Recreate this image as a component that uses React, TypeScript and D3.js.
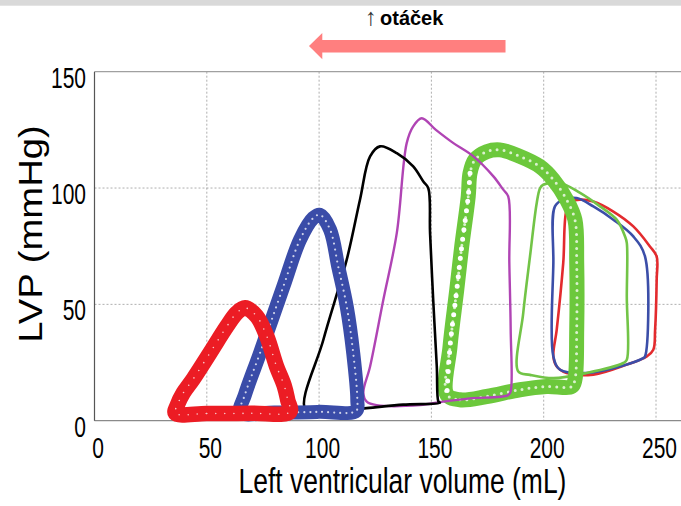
import React from 'react';
import * as d3 from 'd3';

// ---------- data ----------
const xTicks = [0, 50, 100, 150, 200, 250];
const yTicks = [0, 50, 100, 150];
const xLabel = 'Left ventricular volume (mL)';
const yLabel = 'LVP (mmHg)';
const titleArrow = '↑';
const titleText = 'otáček';

// annotation arrow (data units): from volume -> to volume at pressure level
const annFromV = 183;
const annToV = 95.5;
const annP = 161;

// thick loops (marker "o" series)
const redThickV = [36, 50, 70, 87, 86, 84.5, 81, 76.7, 72.2, 67, 63.3, 58.9, 51.4, 44, 39.5, 37];
const redThickP = [3.2, 3.1, 3.2, 3.8, 9, 15, 23.5, 36.3, 44.9, 48.5, 46.3, 40.5, 29.1, 18, 11.9, 7];

const blueThickV = [65, 80, 100, 116.5, 117, 115.2, 112.3, 108.5, 104.9, 100.4, 97.4, 91.5, 84.1, 73.7, 67];
const blueThickP = [3.6, 3.5, 3.8, 4.2, 9, 29, 49.1, 66.3, 82.1, 88.5, 87.1, 77.8, 57.7, 29.1, 11.2];

const greenThickV = [156.9, 162.7, 174.6, 189.4, 201.3, 212.5, 213.9, 214.7, 214.7, 213.9, 210.2, 204.3, 198.4, 189.4, 180.5, 174.6, 169.4, 167.2, 166.4, 163.5, 161.3, 158.3];
const greenThickP = [11.2, 9.0, 10.4, 13.3, 14.7, 14.7, 17.6, 39.1, 67.8, 86.4, 95.0, 103.6, 109.2, 113.6, 116.4, 115.6, 112.2, 106.4, 96.4, 74.9, 56.3, 31.9];
const greenSparseFrom = 17;

// thin loops
const blackV = [94, 110, 121.2, 137.4, 153.8, 153.1, 152.4, 150.8, 149.4, 148.6, 146.4, 141.9, 134.6, 127.1, 122.7, 118.2, 112.3, 101.9];
const blackP = [4.5, 4.6, 5.4, 6.9, 7.7, 8.3, 23.3, 52, 80.7, 100, 102.8, 109.3, 115, 117.9, 113.6, 95, 69.2, 34.8];

const magentaV = [121.2, 125.6, 144.9, 155.3, 167.2, 184.2, 185.3, 185.3, 184.7, 184.2, 182, 177.6, 168.7, 159.8, 152, 145.7, 141.9, 139, 134.6, 128.6, 122.7, 119.7];
const magentaP = [8.2, 6.7, 6.7, 8.2, 9.6, 11, 12.6, 39.1, 67.8, 96.4, 99.3, 105, 113.6, 119.3, 125, 130, 126.5, 119.3, 80.7, 52, 23.3, 11.9];

const greenThinV = [188.7, 193.9, 204.3, 219.1, 235.4, 237.0, 237.0, 237.0, 236.2, 232.5, 225.1, 216.2, 207.3, 199.8, 198.4, 196.9, 193.9, 190.9];
const greenThinP = [21.1, 19.7, 18.3, 20.5, 24.8, 26.2, 53.4, 76.4, 79.2, 86.4, 92.1, 97.9, 102.2, 101.4, 100.0, 93.6, 70.6, 46.3];

const blueThinV = [207.3, 219.1, 234.0, 244.3, 245.1, 245.1, 239.9, 231.0, 222.1, 214.7, 208.7, 205.0, 204.3, 204.3];
const blueThinP = [21.9, 20.5, 23.3, 26.9, 27.6, 70.6, 79.2, 86.4, 92.1, 95.7, 95.0, 92.1, 67.8, 27.6];

const redThinV = [210.2, 222.1, 237.0, 245.9, 248.8, 249.6, 250.3, 250.3, 247.3, 239.9, 231.0, 222.1, 216.2, 212.5, 210.2, 208.7, 205.8, 204.3, 205.8];
const redThinP = [20.5, 19.8, 24.1, 27.6, 30.5, 39.1, 60.6, 70.6, 74.9, 83.5, 89.9, 94.2, 95.0, 94.2, 90.7, 67.8, 39.1, 27.6, 23.3];

// ---------- layout ----------
const W = 681;
const H = 506;
const xScale = d3.scaleLinear().domain([0, 250]).range([94.5, 656]);
const yScale = d3.scaleLinear().domain([0, 150]).range([420.7, 71.7]);
const xMax = xScale.invert(W);

type Pt = [number, number];
const zip = (v: number[], p: number[]): Pt[] => v.map((d, i) => [d, p[i]]);

const closedLine = d3
  .line<Pt>()
  .x((d) => xScale(d[0]))
  .y((d) => yScale(d[1]))
  .curve(d3.curveCatmullRomClosed.alpha(0.5));
const openLine = d3
  .line<Pt>()
  .x((d) => xScale(d[0]))
  .y((d) => yScale(d[1]))
  .curve(d3.curveCatmullRom.alpha(0.5));

const FONT = 'Arial, "Liberation Sans", Helvetica, sans-serif';

function ThickLoop({ v, p, color, width, dot, gap, sparseFrom }: { v: number[]; p: number[]; color: string; width: number; dot: number; gap: number; sparseFrom?: number }) {
  const pts = zip(v, p);
  const d = closedLine(pts) || '';
  let sparse: string | null = null;
  if (sparseFrom !== undefined) {
    const seg = pts.slice(sparseFrom).concat([pts[0]]);
    sparse = openLine(seg);
  }
  return (
    <g>
      <path d={d} fill="none" stroke={color} strokeWidth={width} strokeLinejoin="round" />
      <path d={d} fill="none" stroke="#fff" strokeOpacity={0.75} strokeWidth={dot} strokeDasharray={`0 ${gap}`} strokeLinecap="round" />
      {sparse && (
        <path d={sparse} fill="none" stroke="#fff" strokeWidth={5} strokeDasharray="0 9.5" strokeLinecap="round" />
      )}
    </g>
  );
}

function ThinLoop({ v, p, color, width }: { v: number[]; p: number[]; color: string; width: number }) {
  const d = closedLine(zip(v, p)) || '';
  return <path d={d} fill="none" stroke={color} strokeWidth={width} strokeLinejoin="round" />;
}

export default function App() {
  const x0 = xScale(0);
  const y0 = yScale(0);
  const yTop = yScale(150);

  const tipX = xScale(annToV);
  const endX = xScale(annFromV);
  const ay = yScale(annP);
  const arrowPath = `M${tipX},${ay} L${tipX + 13.3},${ay - 13} L${tipX + 13.3},${ay - 6.2} L${endX},${ay - 6.2} L${endX},${ay + 6.5} L${tipX + 13.3},${ay + 6.5} L${tipX + 13.3},${ay + 13.2} Z`;

  return (
    <svg width={W} height={H} style={{ position: 'absolute', left: 0, top: 0, background: '#fff' }} fontFamily={FONT}>
      <rect x={0} y={0} width={W} height={H} fill="#fff" />
      <rect x={0} y={0} width={W} height={5.7} fill="#d9d9d9" />

      {/* title */}
      <text x={365} y={25} fontSize={20} fill="#000">
        <tspan fontWeight="normal" fill="#333" fontSize={24}>{titleArrow}</tspan>
        <tspan fontWeight="bold" dx={3}>{titleText}</tspan>
      </text>
      <path d={arrowPath} fill="#ff7f7f" />

      {/* grid */}
      {xTicks.filter((t) => t > 0).map((t) => (
        <line key={'gx' + t} x1={xScale(t)} x2={xScale(t)} y1={yTop} y2={y0} stroke="#9a9a9a" strokeWidth={0.8} strokeDasharray="2 2" />
      ))}
      {yTicks.filter((t) => t > 0 && t < 150).map((t) => (
        <line key={'gy' + t} x1={x0} x2={xScale(xMax)} y1={yScale(t)} y2={yScale(t)} stroke="#9a9a9a" strokeWidth={0.8} strokeDasharray="2 2" />
      ))}
      <line x1={x0} x2={xScale(xMax)} y1={yTop} y2={yTop} stroke="#a0a0a0" strokeWidth={1.2} />
      <line x1={x0} x2={xScale(xMax)} y1={y0} y2={y0} stroke="#8a8a8a" strokeWidth={1.2} />
      <line x1={x0} x2={x0} y1={yTop} y2={y0} stroke="#555" strokeWidth={1.2} />

      {/* loops */}
      <ThinLoop v={redThinV} p={redThinP} color="#e32b2e" width={2.6} />
      <ThinLoop v={blueThinV} p={blueThinP} color="#3b4ea8" width={2.6} />
      <ThinLoop v={greenThinV} p={greenThinP} color="#72c447" width={2.6} />
      <ThickLoop v={greenThickV} p={greenThickP} color="#6cc83c" width={15} dot={3} gap={7} sparseFrom={greenSparseFrom} />
      <ThinLoop v={magentaV} p={magentaP} color="#b044b4" width={2.4} />
      <ThinLoop v={blackV} p={blackP} color="#000" width={2.6} />
      <ThickLoop v={blueThickV} p={blueThickP} color="#3a4ca8" width={14} dot={2.2} gap={6} />
      <ThickLoop v={redThickV} p={redThickP} color="#ec1c24" width={15.5} dot={1.6} gap={9} />

      {/* tick labels */}
      {yTicks.map((t) => (
        <text key={'yl' + t} transform={`translate(86,${yScale(t) + 16}) scale(0.7,1)`} textAnchor="end" fontSize={30} fill="#000">
          {t}
        </text>
      ))}
      {xTicks.map((t) => (
        <text key={'xl' + t} transform={`translate(${xScale(t) + 3.5},458) scale(0.7,1)`} textAnchor="middle" fontSize={30} fill="#000">
          {t}
        </text>
      ))}

      {/* axis titles */}
      <text transform="translate(402.5,493) scale(0.756,1)" textAnchor="middle" fontSize={35} fill="#000">
        {xLabel}
      </text>
      <text transform="translate(42,234) rotate(-90) scale(1.16,1)" textAnchor="middle" fontSize={33} fill="#000">
        {yLabel}
      </text>
    </svg>
  );
}
